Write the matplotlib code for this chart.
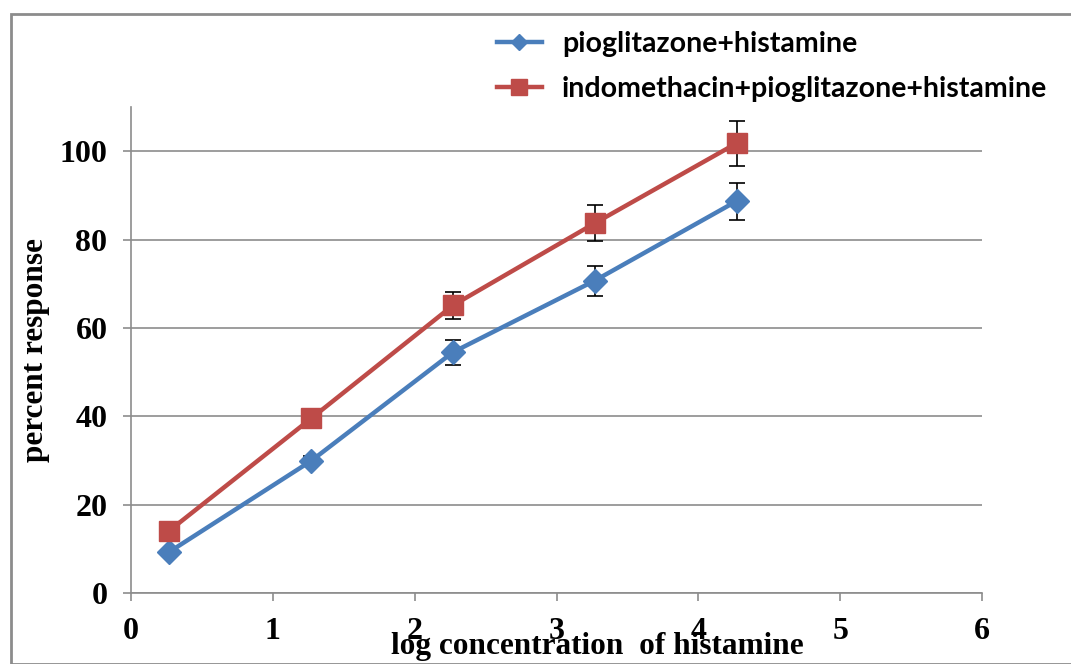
import matplotlib.pyplot as plt
from matplotlib.patches import Rectangle
from matplotlib.lines import Line2D

log_conc = [0.27, 1.27, 2.27, 3.27, 4.27]

pio_hist = [9.3, 29.9, 54.5, 70.7, 88.7]
pio_hist_err = [0.6, 1.0, 2.8, 3.4, 4.2]

indo_pio_hist = [14.1, 39.5, 65.1, 83.7, 101.8]
indo_pio_hist_err = [0.6, 1.0, 3.1, 4.1, 5.1]

labels = ["pioglitazone+histamine", "indomethacin+pioglitazone+histamine"]

blue = "#4a7ebb"
red = "#be4b48"
grey = "#8c8c8c"

fig = plt.figure(figsize=(10.71, 6.64), dpi=100)
ax = fig.add_axes([131 / 1071, 1 - 593 / 664, 851 / 1071, 486 / 664])

# outer chart border
fig.patches.append(Rectangle((11 / 1071, 0.0), 1.0, 1 - 14 / 664, transform=fig.transFigure,
                             fill=False, edgecolor=grey, linewidth=2))

ax.errorbar(log_conc, pio_hist, yerr=pio_hist_err, color=blue, ecolor="black",
            elinewidth=1.2, capsize=6, capthick=1.2, linewidth=3.2, marker="D",
            markersize=12, zorder=3)
ax.errorbar(log_conc, indo_pio_hist, yerr=indo_pio_hist_err, color=red, ecolor="black",
            elinewidth=1.2, capsize=6, capthick=1.2, linewidth=3.2, marker="s",
            markersize=14, zorder=3)

ax.set_xlim(0, 6)
ax.set_ylim(0, 110)
ax.set_xticks(range(0, 7))
ax.set_yticks(range(0, 101, 20))
ax.yaxis.grid(True, color=grey, linewidth=1.2)
ax.set_axisbelow(True)

for s in ["top", "right"]:
    ax.spines[s].set_visible(False)
for s in ["left", "bottom"]:
    ax.spines[s].set_color(grey)
    ax.spines[s].set_linewidth(1.2)

ax.tick_params(axis="both", direction="out", length=6, width=1.2, color=grey, pad=11)
for lab in ax.get_xticklabels() + ax.get_yticklabels():
    lab.set_fontfamily("Liberation Serif")
    lab.set_fontweight("bold")
    lab.set_fontsize(23)

label_font = {"family": "Liberation Serif", "weight": "bold", "size": 22.5}
ax.set_xlabel("log concentration  of histamine", **label_font)
ax.xaxis.set_label_coords(0.548, -0.080)
ax.set_ylabel("percent response", **label_font)
ax.yaxis.set_label_coords(-0.095, 0.5)

handles = [
    Line2D([], [], color=blue, linewidth=3.2, marker="D", markersize=8),
    Line2D([], [], color=red, linewidth=3.2, marker="s", markersize=11),
]
leg = ax.legend(handles, labels, loc="upper left", bbox_to_anchor=(340 / 851, 1 + 102 / 486),
                frameon=False, prop={"family": "Lato", "weight": "bold", "size": 20.5},
                handlelength=1.6, labelspacing=0.68, handletextpad=0.7)

fig.savefig("out.png", dpi=100)
